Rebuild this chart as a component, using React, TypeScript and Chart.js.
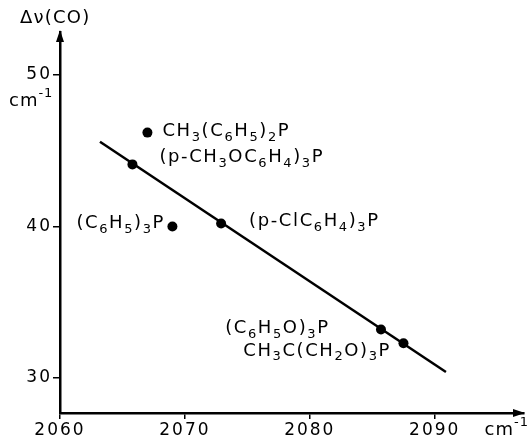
import React, { useEffect, useRef } from "react";
import { Chart, registerables } from "chart.js";

Chart.register(...registerables);

// ---- data ----
const compounds = [
  "CH3(C6H5)2P",
  "(p-CH3OC6H4)3P",
  "(C6H5)3P",
  "(p-ClC6H4)3P",
  "(C6H5O)3P",
  "CH3C(CH2O)3P",
];
const wavenumbers = [2067.0, 2065.8, 2069.0, 2072.9, 2085.7, 2087.5];
const deltaNu = [46.2, 44.1, 40.0, 40.2, 33.2, 32.3];
const fitX = [2063.2, 2090.9];
const fitY = [45.6, 30.4];
const xTicks = [2060, 2070, 2080, 2090];
const yTicks = [30, 40, 50];
const yAxisTitle = "Δν(CO)";
const unitLabel = "cm^-1";

// ---- label styling (pixel offsets from each dot) ----
const labelPlacement: { align: "left" | "right"; dx: number; dy: number }[] = [
  { align: "left", dx: 15, dy: -1 },
  { align: "left", dx: 27, dy: -7 },
  { align: "right", dx: -9, dy: -3 },
  { align: "left", dx: 28, dy: -2 },
  { align: "right", dx: -53, dy: -1 },
  { align: "right", dx: -14, dy: 8 },
];

const FONT = "'DejaVu Sans', sans-serif";
const WEIGHT = "normal";

type Seg = { t: string; kind: "n" | "sub" | "sup" };

function segments(text: string, formula: boolean): Seg[] {
  const segs: Seg[] = [];
  if (text.includes("^")) {
    const [a, b] = text.split("^");
    segs.push({ t: a, kind: "n" });
    segs.push({ t: b, kind: "sup" });
    return segs;
  }
  for (const ch of text) {
    const kind: Seg["kind"] = formula && /[0-9]/.test(ch) ? "sub" : "n";
    const last = segs[segs.length - 1];
    if (last && last.kind === kind) last.t += ch;
    else segs.push({ t: ch, kind });
  }
  return segs;
}

function drawRich(
  ctx: CanvasRenderingContext2D,
  text: string,
  x: number,
  y: number,
  align: "left" | "right",
  size: number,
  formula: boolean,
  spacing = 1.6
) {
  const segs = segments(text, formula);
  ctx.save();
  ctx.fillStyle = "#000";
  ctx.textBaseline = "middle";
  ctx.textAlign = "left";
  (ctx as any).letterSpacing = spacing + "px";
  const fontFor = (k: Seg["kind"]) =>
    `${WEIGHT} ${k === "n" ? size : Math.round(size * 0.72)}px ${FONT}`;
  let total = 0;
  for (const s of segs) {
    ctx.font = fontFor(s.kind);
    total += ctx.measureText(s.t).width;
  }
  total -= spacing;
  let cx = align === "left" ? x : x - total;
  for (const s of segs) {
    ctx.font = fontFor(s.kind);
    const off = s.kind === "sub" ? size * 0.32 : s.kind === "sup" ? -size * 0.4 : 0;
    ctx.fillText(s.t, cx, y + off);
    cx += ctx.measureText(s.t).width;
  }
  ctx.restore();
}

const annotationPlugin = {
  id: "annotations",
  beforeDraw(chart: any) {
    // wide lettering for the tick labels, like the original drawing
    (chart.ctx as any).letterSpacing = "2px";
  },
  afterDraw(chart: any) {
    const ctx: CanvasRenderingContext2D = chart.ctx;
    const { left, right, top, bottom } = chart.chartArea;
    const xs = chart.scales.x;
    const ys = chart.scales.y;
    ctx.save();
    ctx.fillStyle = "#000";
    // arrow heads on the axes
    ctx.beginPath();
    ctx.moveTo(left, top - 2);
    ctx.lineTo(left - 4, top + 10);
    ctx.lineTo(left + 4, top + 10);
    ctx.closePath();
    ctx.fill();
    ctx.beginPath();
    ctx.moveTo(right + 1, bottom);
    ctx.lineTo(right - 11, bottom - 4);
    ctx.lineTo(right - 11, bottom + 4);
    ctx.closePath();
    ctx.fill();
    ctx.restore();

    // axis titles / units
    drawRich(ctx, yAxisTitle, 20, 18, "left", 18, false, 1.2);
    drawRich(ctx, unitLabel, 9, ys.getPixelForValue(50) + 26, "left", 18, false, 1);
    drawRich(ctx, unitLabel, 528, bottom + 17, "right", 18, false, 1);

    // compound labels
    compounds.forEach((name, i) => {
      const px = xs.getPixelForValue(wavenumbers[i]);
      const py = ys.getPixelForValue(deltaNu[i]);
      const p = labelPlacement[i];
      drawRich(ctx, name, px + p.dx, py + p.dy, p.align, 18, true);
    });
  },
};

export default function App() {
  const ref = useRef<HTMLCanvasElement | null>(null);
  useEffect(() => {
    if (!ref.current) return;
    const chart = new Chart(ref.current, {
      type: "scatter",
      data: {
        datasets: [
          {
            label: "fit",
            data: fitX.map((x, i) => ({ x, y: fitY[i] })),
            showLine: true,
            borderColor: "#000",
            borderWidth: 2.5,
            pointRadius: 0,
          },
          {
            label: "compounds",
            data: wavenumbers.map((x, i) => ({ x, y: deltaNu[i] })),
            backgroundColor: "#000",
            borderColor: "#000",
            pointRadius: 5,
            borderWidth: 0,
          },
        ],
      },
      options: {
        responsive: false,
        animation: false,
        layout: { padding: { top: 32, right: 2, left: 0, bottom: 0 } },
        plugins: { legend: { display: false }, tooltip: { enabled: false } },
        scales: {
          x: {
            type: "linear",
            min: 2060,
            max: 2097.15,
            afterFit: (s: any) => {
              s.height = 26;
            },
            afterBuildTicks: (s: any) => {
              s.ticks = xTicks.map((v) => ({ value: v }));
            },
            border: { display: true, color: "#000", width: 2.5 },
            grid: { drawOnChartArea: false, color: "#000", lineWidth: 1.5, tickLength: 6 },
            ticks: {
              color: "#000",
              font: { family: FONT, size: 17 },
              padding: 1,
              maxRotation: 0,
              callback: (v: any) => String(v),
            },
          },
          y: {
            type: "linear",
            min: 27.69,
            max: 52.84,
            afterFit: (s: any) => {
              s.width = 60;
            },
            afterBuildTicks: (s: any) => {
              s.ticks = yTicks.map((v) => ({ value: v }));
            },
            border: { display: true, color: "#000", width: 2.5 },
            grid: { drawOnChartArea: false, color: "#000", lineWidth: 1.5, tickLength: 7 },
            ticks: {
              color: "#000",
              font: { family: FONT, size: 17 },
              padding: 1,
              callback: (v: any) => String(v),
            },
          },
        },
      },
      plugins: [annotationPlugin],
    });
    return () => chart.destroy();
  }, []);
  return (
    <div style={{ position: "fixed", left: 0, top: 0, width: 529, height: 439, background: "#fff" }}>
      <canvas ref={ref} width={529} height={439} style={{ display: "block" }} />
    </div>
  );
}
